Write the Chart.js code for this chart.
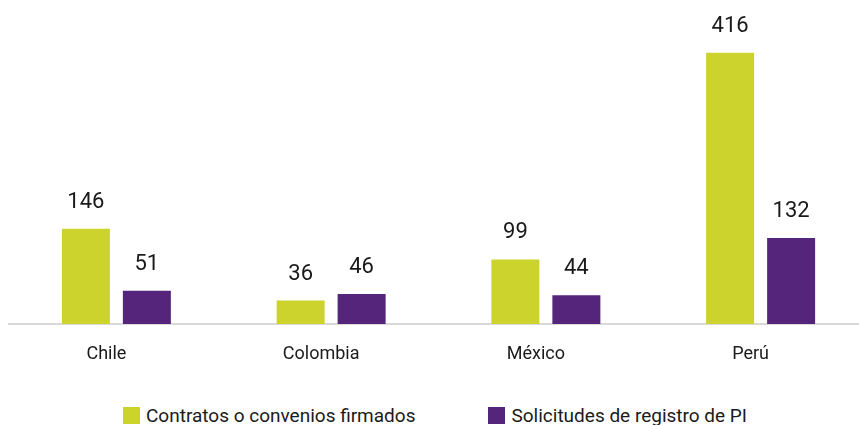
<!DOCTYPE html>
<html>
<head>
<meta charset="utf-8">
<script src="https://cdn.jsdelivr.net/npm/chart.js@4"></script>
<style>
  html, body { margin: 0; padding: 0; background: #fff; overflow: hidden; }
  #wrap { position: relative; width: 868px; height: 372px; }
  #legend {
    position: absolute; left: 123px; top: 404px;
    display: flex; gap: 73px;
    font-family: Roboto, sans-serif; font-size: 19px; color: #1a1a1a;
  }
  #legend .item { display: flex; align-items: center; }
  #legend .box { width: 17px; height: 17px; margin-right: 6px; }
</style>
</head>
<body>
<div id="wrap"><canvas id="myChart"></canvas></div>
<div id="legend"></div>
<script>
// data
const countries = ['Chile', 'Colombia', 'México', 'Perú'];
const contratos = [146, 36, 99, 416];
const solicitudes = [51, 46, 44, 132];
const seriesNames = ['Contratos o convenios firmados', 'Solicitudes de registro de PI'];

const green = '#cbd32c';
const purple = '#55257b';
const fontName = 'Roboto';

// write the value above each bar
const valueLabels = {
  id: 'valueLabels',
  afterDatasetsDraw(chart) {
    const ctx = chart.ctx;
    ctx.save();
    ctx.font = '22px ' + fontName;
    ctx.fillStyle = '#1a1a1a';
    ctx.textAlign = 'center';
    ctx.textBaseline = 'alphabetic';
    chart.data.datasets.forEach((ds, i) => {
      chart.getDatasetMeta(i).data.forEach((bar, j) => {
        ctx.fillText(ds.data[j], bar.x, bar.y - 21);
      });
    });
    ctx.restore();
  }
};

var chrt = document.getElementById('myChart');

var bar = new Chart(chrt, {
  type: 'bar',
  data: {
    labels: countries,
    datasets: [{
      label: seriesNames[0],
      data: contratos,
      backgroundColor: green,
      categoryPercentage: 0.568,
      barPercentage: 0.787
    }, {
      label: seriesNames[1],
      data: solicitudes,
      backgroundColor: purple,
      categoryPercentage: 0.568,
      barPercentage: 0.787
    }]
  },
  options: {
    responsive: true,
    maintainAspectRatio: false,
    animation: false,
    layout: { padding: { left: 9, top: 0, right: 0, bottom: 0 } },
    plugins: {
      tooltip: { enabled: false },
      legend: { display: false }
    },
    scales: {
      y: {
        display: false,
        min: 0,
        max: 497
      },
      x: {
        grid: { display: false, drawTicks: false },
        border: { display: true, color: '#d9d9d9', width: 2 },
        ticks: {
          color: '#1a1a1a',
          padding: 20,
          labelOffset: -10,
          font: { family: fontName, size: 18 }
        },
        afterFit: (scale) => { scale.height = 48; }
      }
    }
  },
  plugins: [valueLabels]
});

// legend below the canvas, built from the datasets
var legendElm = document.getElementById('legend');
bar.data.datasets.forEach((ds) => {
  var item = document.createElement('div');
  item.className = 'item';
  var box = document.createElement('span');
  box.className = 'box';
  box.style.background = ds.backgroundColor;
  var txt = document.createElement('span');
  txt.textContent = ds.label;
  item.appendChild(box);
  item.appendChild(txt);
  legendElm.appendChild(item);
});
</script>
</body>
</html>
